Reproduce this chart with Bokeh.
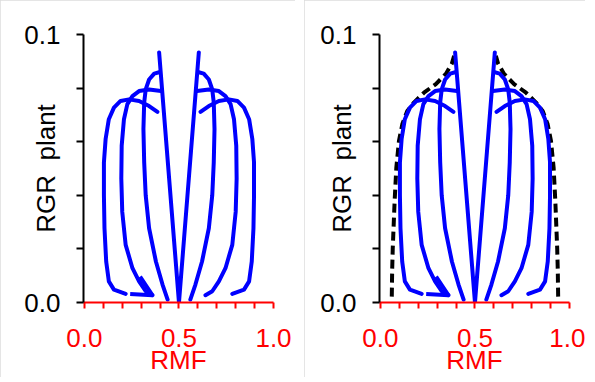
from bokeh.plotting import figure
from bokeh.layouts import row
from bokeh.models import FixedTicker, PrintfTickFormatter, Range1d, Arrow, OpenHead
from bokeh.embed import file_html
from bokeh.resources import INLINE

FONT = "Liberation Sans"
BLUE = "#0000ff"

# --- tick values ---
x_major = [0.0, 0.5, 1.0]
x_minor = [0.1, 0.2, 0.3, 0.4, 0.6, 0.7, 0.8, 0.9]
y_major = [0.0, 0.1]
y_minor = [0.02, 0.04, 0.06, 0.08]

# --- trajectories (RMF, RGR plant) ---
left_straight_x = [0.395, 0.500]
left_straight_y = [0.0933, 0.0]
right_straight_x = [0.605, 0.500]
right_straight_y = [0.0933, 0.0]

left_inner_x = [0.395, 0.369, 0.342, 0.324, 0.316, 0.312, 0.316, 0.324, 0.342, 0.378, 0.413, 0.440]
left_inner_y = [0.0859, 0.0854, 0.0832, 0.0795, 0.0746, 0.0647, 0.0523, 0.0400, 0.0277, 0.0153, 0.0067, 0.0011]
right_inner_x = [0.605, 0.631, 0.658, 0.676, 0.684, 0.688, 0.684, 0.676, 0.658, 0.622, 0.587, 0.560]
right_inner_y = [0.0859, 0.0854, 0.0832, 0.0795, 0.0746, 0.0647, 0.0523, 0.0400, 0.0277, 0.0153, 0.0067, 0.0011]

left_middle_x = [0.405, 0.342, 0.289, 0.254, 0.227, 0.209, 0.197, 0.195, 0.200, 0.218, 0.254, 0.289, 0.324, 0.360]
left_middle_y = [0.0789, 0.0795, 0.0789, 0.0770, 0.0740, 0.0684, 0.0585, 0.0462, 0.0338, 0.0215, 0.0128, 0.0079, 0.0042, 0.0027]
right_middle_x = [0.595, 0.658, 0.711, 0.746, 0.773, 0.791, 0.803, 0.805, 0.800, 0.782, 0.746, 0.711, 0.676, 0.640]
right_middle_y = [0.0789, 0.0795, 0.0789, 0.0770, 0.0740, 0.0684, 0.0585, 0.0462, 0.0338, 0.0215, 0.0128, 0.0079, 0.0042, 0.0027]

left_outer_x = [0.386, 0.342, 0.289, 0.236, 0.191, 0.156, 0.129, 0.112, 0.103, 0.103, 0.106, 0.115, 0.129, 0.156, 0.218]
left_outer_y = [0.0711, 0.0733, 0.0752, 0.0758, 0.0752, 0.0727, 0.0684, 0.0610, 0.0523, 0.0400, 0.0277, 0.0153, 0.0079, 0.0048, 0.0032]
right_outer_x = [0.614, 0.658, 0.711, 0.764, 0.809, 0.844, 0.871, 0.888, 0.897, 0.897, 0.894, 0.885, 0.871, 0.844, 0.782]
right_outer_y = [0.0711, 0.0733, 0.0752, 0.0758, 0.0752, 0.0727, 0.0684, 0.0610, 0.0523, 0.0400, 0.0277, 0.0153, 0.0079, 0.0048, 0.0032]

# arrow on the left middle trajectory (start -> tip)
arrow_x = [0.268, 0.360]
arrow_y = [0.0064, 0.0027]

# dashed envelope (second panel)
left_env_x = [0.060, 0.062, 0.065, 0.068, 0.075, 0.084, 0.098, 0.116, 0.142, 0.177, 0.232, 0.293, 0.346, 0.377, 0.395]
left_env_y = [0.0022, 0.0120, 0.0200, 0.0254, 0.0378, 0.0503, 0.0603, 0.0666, 0.0715, 0.0746, 0.0784, 0.0815, 0.0853, 0.0890, 0.0934]
right_env_x = [0.940, 0.938, 0.935, 0.932, 0.925, 0.916, 0.902, 0.884, 0.858, 0.823, 0.768, 0.707, 0.654, 0.623, 0.605]
right_env_y = [0.0022, 0.0120, 0.0200, 0.0254, 0.0378, 0.0503, 0.0603, 0.0666, 0.0715, 0.0746, 0.0784, 0.0815, 0.0853, 0.0890, 0.0934]

curves = [
    (left_straight_x, left_straight_y), (right_straight_x, right_straight_y),
    (left_inner_x, left_inner_y), (right_inner_x, right_inner_y),
    (left_middle_x, left_middle_y), (right_middle_x, right_middle_y),
    (left_outer_x, left_outer_y), (right_outer_x, right_outer_y),
]

TOP, FRAME_H, BOTTOM = 34, 270, 73
FRAME_W = 190


def make_panel(envelope, left_border, right_border):
    width = left_border + FRAME_W + right_border
    p = figure(width=width, height=TOP + FRAME_H + BOTTOM,
               output_backend="svg", toolbar_location=None,
               x_range=Range1d(-0.005, 1.0), y_range=Range1d(0.0, 0.1),
               min_border_left=left_border, min_border_right=right_border,
               min_border_top=TOP, min_border_bottom=BOTTOM)
    p.grid.visible = False
    p.outline_line_color = None
    p.background_fill_color = "white"
    p.border_fill_color = "white"
    p.styles = {"outline": "1px solid #dcdcdc", "outline-offset": "-1px"}

    xa = p.xaxis[0]
    xa.ticker = FixedTicker(ticks=x_major, minor_ticks=x_minor)
    xa.formatter = PrintfTickFormatter(format="%.1f")
    xa.axis_line_color = "red"
    xa.axis_line_width = 2
    xa.major_tick_line_color = "red"
    xa.minor_tick_line_color = "red"
    xa.major_tick_line_width = 2
    xa.minor_tick_line_width = 2
    xa.major_tick_in = 0
    xa.minor_tick_in = 0
    xa.major_tick_out = 6
    xa.minor_tick_out = 6
    xa.major_label_text_color = "red"
    xa.major_label_text_font = FONT
    xa.major_label_text_font_size = "26px"
    xa.major_label_standoff = 20
    xa.axis_label = "RMF"
    xa.axis_label_text_color = "red"
    xa.axis_label_text_font = FONT
    xa.axis_label_text_font_size = "26px"
    xa.axis_label_text_font_style = "normal"
    xa.axis_label_standoff = -5

    ya = p.yaxis[0]
    ya.ticker = FixedTicker(ticks=y_major, minor_ticks=y_minor)
    ya.formatter = PrintfTickFormatter(format="%.1f")
    ya.axis_line_color = "black"
    ya.axis_line_width = 2
    ya.major_tick_line_color = "black"
    ya.minor_tick_line_color = "black"
    ya.major_tick_line_width = 2
    ya.minor_tick_line_width = 2
    ya.major_tick_in = 0
    ya.minor_tick_in = 0
    ya.major_tick_out = 7
    ya.minor_tick_out = 7
    ya.major_label_text_color = "black"
    ya.major_label_text_font = FONT
    ya.major_label_text_font_size = "26px"
    ya.major_label_standoff = 16
    ya.axis_label = "RGR\u00a0 plant"
    ya.axis_label_text_color = "black"
    ya.axis_label_text_font = FONT
    ya.axis_label_text_font_size = "26px"
    ya.axis_label_text_font_style = "normal"
    ya.axis_label_standoff = -40

    if envelope:
        for ex, ey in [(left_env_x, left_env_y), (right_env_x, right_env_y)]:
            p.line(ex, ey, line_color="black", line_width=4, line_dash="9 5")

    for cx, cy in curves:
        p.line(cx, cy, line_color=BLUE, line_width=4, line_cap="round", line_join="round")

    p.add_layout(Arrow(end=OpenHead(size=20, line_color=BLUE, line_width=4),
                       x_start=arrow_x[0], y_start=arrow_y[0],
                       x_end=arrow_x[1], y_end=arrow_y[1],
                       line_color=BLUE, line_width=4, line_alpha=0.0))
    return p


p1 = make_panel(False, 83, 22)
p2 = make_panel(True, 75, 16)
layout = row(p1, p2, spacing=9)

open("out.html", "w").write(file_html(layout, INLINE))
